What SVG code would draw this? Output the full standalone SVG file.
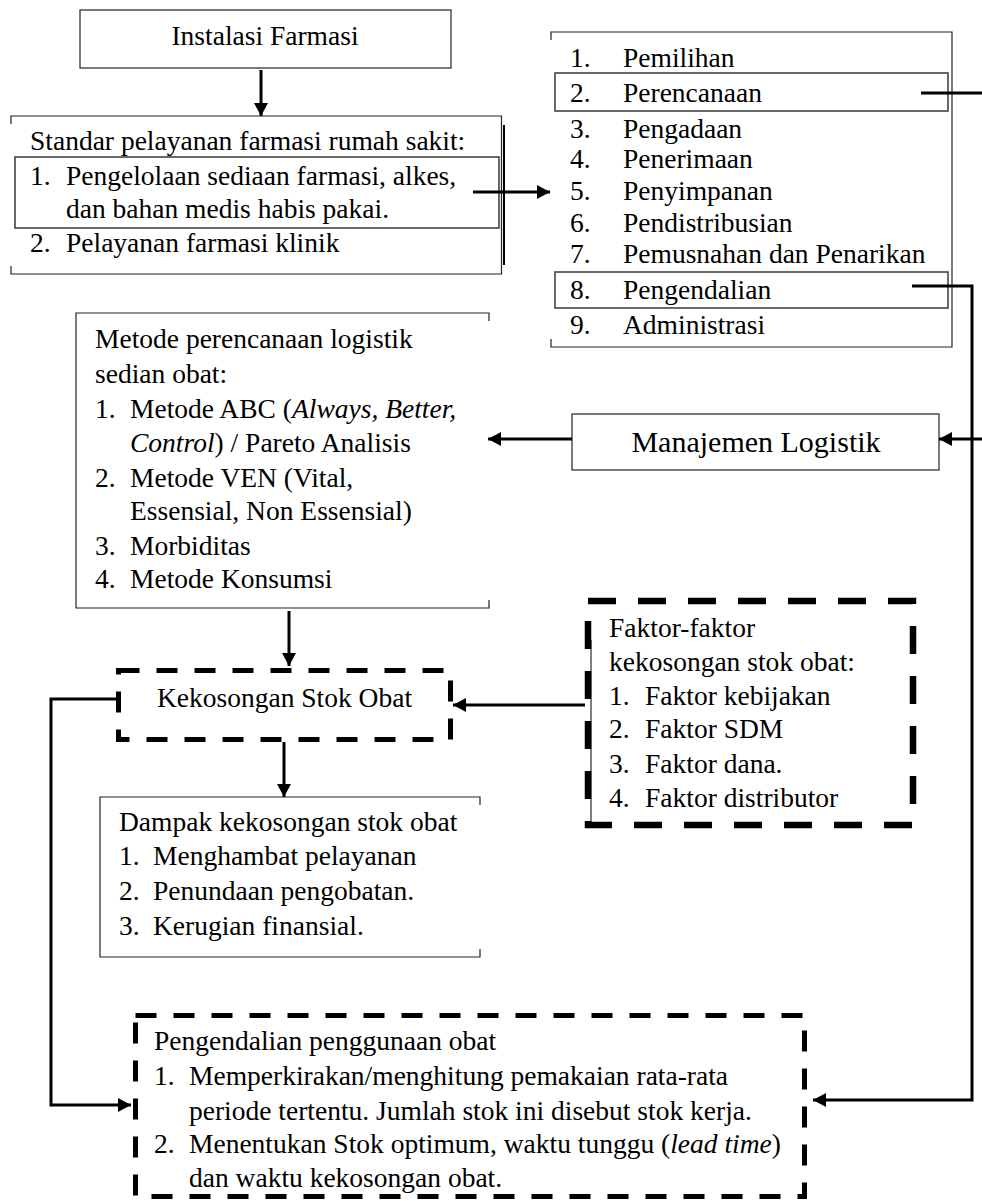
<svg xmlns="http://www.w3.org/2000/svg" width="982" height="1201" viewBox="0 0 982 1201">
<defs>
<style>
text{font-family:"Liberation Serif","Times New Roman",serif;font-size:27.5px;fill:#000}
.c{text-anchor:middle}
.i{font-style:italic}
.box{fill:none;stroke:#222;stroke-width:1.2}
.hl{fill:none;stroke:#444;stroke-width:1.6}
.dash5{fill:none;stroke:#000;stroke-width:5;stroke-dasharray:21 17}
.dash7{fill:none;stroke:#000;stroke-width:6.5;stroke-dasharray:28 22}
.conn{fill:none;stroke:#000;stroke-width:3}
.arr{marker-end:url(#ah)}
</style>
<marker id="ah" markerUnits="userSpaceOnUse" markerWidth="14" markerHeight="14" refX="13" refY="7" orient="auto">
<path d="M0,0 L13,7 L0,14 z" fill="#000"/>
</marker>
</defs>
<rect width="982" height="1201" fill="#fff"/>

<g id="instalasi">
<rect class="box" x="80" y="10" width="371" height="58"/>
<text class="c" x="265" y="45">Instalasi Farmasi</text>
</g>

<g id="standar">
<path class="box" d="M11,124 V116 H501.5 V274 H11 V266"/>
<path d="M504,125 V265" stroke="#000" stroke-width="2" fill="none"/>
<rect class="hl" x="15" y="157" width="484" height="71"/>
<text x="30" y="150">Standar pelayanan farmasi rumah sakit:</text>
<text x="30" y="185">1.</text>
<text x="66" y="185">Pengelolaan sediaan farmasi, alkes,</text>
<text x="66" y="218">dan bahan medis habis pakai.</text>
<text x="30" y="252">2.</text>
<text x="66" y="252">Pelayanan farmasi klinik</text>
</g>

<g id="fungsi">
<path class="box" d="M551,40 V32 H952 V347 H551 V339"/>
<rect class="hl" x="555" y="73" width="393" height="38"/>
<rect class="hl" x="555" y="272" width="393" height="36"/>
<text x="570" y="67">1.</text><text x="623" y="67">Pemilihan</text>
<text x="570" y="102">2.</text><text x="623" y="102">Perencanaan</text>
<text x="570" y="138">3.</text><text x="623" y="138">Pengadaan</text>
<text x="570" y="168">4.</text><text x="623" y="168">Penerimaan</text>
<text x="570" y="200">5.</text><text x="623" y="200">Penyimpanan</text>
<text x="570" y="232">6.</text><text x="623" y="232">Pendistribusian</text>
<text x="570" y="263">7.</text><text x="623" y="263">Pemusnahan dan Penarikan</text>
<text x="570" y="299">8.</text><text x="623" y="299">Pengendalian</text>
<text x="570" y="334">9.</text><text x="623" y="334">Administrasi</text>
</g>

<g id="metode">
<path class="box" d="M489,321 V313 H76 V608 H489 V600"/>
<text x="95" y="348">Metode perencanaan logistik</text>
<text x="95" y="383">sedian obat:</text>
<text x="95" y="418">1.</text>
<text x="130" y="418">Metode ABC (<tspan class="i">Always, Better,</tspan></text>
<text x="130" y="452"><tspan class="i">Control</tspan>) / Pareto Analisis</text>
<text x="95" y="487">2.</text>
<text x="130" y="487">Metode VEN (Vital,</text>
<text x="130" y="520">Essensial, Non Essensial)</text>
<text x="95" y="555">3.</text>
<text x="130" y="555">Morbiditas</text>
<text x="95" y="588">4.</text>
<text x="130" y="588">Metode Konsumsi</text>
</g>

<g id="manajemen">
<rect class="box" x="572" y="414" width="367" height="56"/>
<text class="c" x="756" y="452" style="font-size:30px">Manajemen Logistik</text>
</g>

<g id="kekosongan">
<rect class="dash5" x="118.5" y="670.5" width="332" height="69"/>
<text class="c" x="284.5" y="707">Kekosongan Stok Obat</text>
</g>

<g id="faktor">
<path d="M591,640 V822" stroke="#000" stroke-width="1" fill="none"/>
<rect class="dash7" x="588" y="601" width="325" height="224"/>
<text x="609" y="637">Faktor-faktor</text>
<text x="609" y="671">kekosongan stok obat:</text>
<text x="609" y="705">1.</text><text x="645" y="705">Faktor kebijakan</text>
<text x="609" y="738">2.</text><text x="645" y="738">Faktor SDM</text>
<text x="609" y="773">3.</text><text x="645" y="773">Faktor dana.</text>
<text x="609" y="807">4.</text><text x="645" y="807">Faktor distributor</text>
</g>

<g id="dampak">
<path class="box" d="M480,805 V797 H100 V957 H480 V949"/>
<text x="119" y="831">Dampak kekosongan stok obat</text>
<text x="119" y="865">1.</text><text x="153" y="865">Menghambat pelayanan</text>
<text x="119" y="900">2.</text><text x="153" y="900">Penundaan pengobatan.</text>
<text x="119" y="935">3.</text><text x="153" y="935">Kerugian finansial.</text>
</g>

<g id="pengendalian">
<rect class="dash5" x="135.5" y="1015.5" width="669" height="181"/>
<text x="154" y="1050">Pengendalian penggunaan obat</text>
<text x="154" y="1085">1.</text><text x="189" y="1085">Memperkirakan/menghitung pemakaian rata-rata</text>
<text x="189" y="1120">periode tertentu. Jumlah stok ini disebut stok kerja.</text>
<text x="154" y="1153">2.</text><text x="189" y="1153">Menentukan Stok optimum, waktu tunggu (<tspan class="i">lead time</tspan>)</text>
<text x="189" y="1187">dan waktu kekosongan obat.</text>
</g>

<g id="connectors">
<path class="conn arr" d="M261,70 V116"/>
<path class="conn arr" d="M473,192 H550"/>
<path class="conn arr" d="M921,93 H986 V439 H939"/>
<path class="conn arr" d="M912,286 H972 V1100 H813"/>
<path class="conn arr" d="M572,439 H488"/>
<path class="conn arr" d="M289,611 V666"/>
<path class="conn arr" d="M585,705 H453"/>
<path class="conn arr" d="M284,742 V797"/>
<path class="conn arr" d="M116,699 H51 V1105 H131"/>
</g>
</svg>
